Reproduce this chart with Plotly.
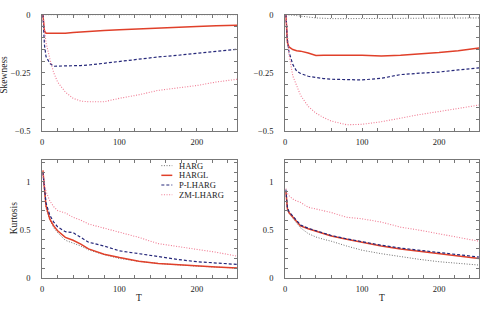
import plotly.graph_objects as go

T = [1, 2, 3, 5, 10, 15, 20, 30, 40, 50, 60, 80, 100, 125, 150, 175, 200, 225, 252]

# Skewness, left panel
skew_L_HARG = [0]*19
skew_L_HARGL = [0, -0.04, -0.07, -0.08, -0.08, -0.083, -0.083, -0.08, -0.077, -0.074, -0.073, -0.068, -0.065, -0.061, -0.056, -0.054, -0.051, -0.048, -0.046]
skew_L_PLHARG = [0, -0.08, -0.13, -0.18, -0.21, -0.222, -0.222, -0.22, -0.22, -0.219, -0.217, -0.209, -0.199, -0.19, -0.182, -0.175, -0.167, -0.159, -0.149]
skew_L_ZMLHARG = [0, -0.03, -0.07, -0.12, -0.19, -0.25, -0.29, -0.333, -0.36, -0.372, -0.375, -0.375, -0.36, -0.345, -0.326, -0.315, -0.305, -0.29, -0.278]

# Skewness, right panel
skew_R_HARG = [0, 0, 0, 0, -0.002, -0.004, -0.007, -0.01, -0.014, -0.016, -0.017, -0.017, -0.017, -0.016, -0.015, -0.015, -0.015, -0.014, -0.014]
skew_R_HARGL = [0, -0.08, -0.12, -0.139, -0.15, -0.155, -0.157, -0.165, -0.176, -0.175, -0.174, -0.175, -0.175, -0.178, -0.175, -0.17, -0.163, -0.155, -0.143]
skew_R_PLHARG = [0, -0.06, -0.11, -0.16, -0.215, -0.243, -0.253, -0.265, -0.271, -0.275, -0.278, -0.281, -0.281, -0.274, -0.258, -0.252, -0.247, -0.238, -0.229]
skew_R_ZMLHARG = [0, -0.05, -0.1, -0.17, -0.264, -0.31, -0.347, -0.395, -0.424, -0.443, -0.458, -0.474, -0.472, -0.461, -0.444, -0.43, -0.417, -0.403, -0.389]

# Kurtosis, left panel
kurt_L_HARG = [1.1, 0.98, 0.87, 0.73, 0.6, 0.52, 0.47, 0.39, 0.36, 0.33, 0.29, 0.24, 0.2, 0.17, 0.148, 0.132, 0.12, 0.11, 0.1]
kurt_L_HARGL = [1.12, 1.0, 0.89, 0.75, 0.61, 0.54, 0.49, 0.42, 0.39, 0.35, 0.3, 0.245, 0.21, 0.172, 0.148, 0.133, 0.12, 0.11, 0.1]
kurt_L_PLHARG = [1.1, 1.0, 0.9, 0.78, 0.65, 0.58, 0.53, 0.48, 0.47, 0.42, 0.37, 0.33, 0.28, 0.25, 0.217, 0.19, 0.166, 0.152, 0.138]
kurt_L_ZMLHARG = [1.1, 1.02, 0.97, 0.9, 0.8, 0.74, 0.70, 0.675, 0.63, 0.6, 0.56, 0.517, 0.476, 0.42, 0.355, 0.325, 0.293, 0.265, 0.224]

# Kurtosis, right panel
kurt_R_HARG = [0.88, 0.76, 0.7, 0.67, 0.62, 0.56, 0.52, 0.46, 0.424, 0.4, 0.38, 0.33, 0.286, 0.25, 0.217, 0.19, 0.166, 0.148, 0.131]
kurt_R_HARGL = [0.9, 0.78, 0.72, 0.68, 0.63, 0.58, 0.54, 0.51, 0.486, 0.46, 0.434, 0.40, 0.366, 0.33, 0.30, 0.275, 0.25, 0.225, 0.2]
kurt_R_PLHARG = [0.92, 0.8, 0.73, 0.69, 0.64, 0.59, 0.55, 0.515, 0.49, 0.465, 0.44, 0.405, 0.372, 0.338, 0.308, 0.284, 0.26, 0.236, 0.215]
kurt_R_ZMLHARG = [0.93, 0.9, 0.88, 0.855, 0.82, 0.8, 0.786, 0.735, 0.715, 0.70, 0.68, 0.63, 0.614, 0.58, 0.527, 0.495, 0.46, 0.42, 0.38]

names = ["HARG", "HARGL", "P-LHARG", "ZM-LHARG"]
styles = {
    "HARG": dict(color="#6e6e6e", dash="1px,1.6px", width=1.0),
    "HARGL": dict(color="#e0402a", dash="solid", width=1.5),
    "P-LHARG": dict(color="#26287a", dash="3px,2px", width=1.2),
    "ZM-LHARG": dict(color="#f07a92", dash="1px,1.6px", width=1.1),
}

panels = [
    ("x", "y", [skew_L_HARG, skew_L_HARGL, skew_L_PLHARG, skew_L_ZMLHARG]),
    ("x2", "y2", [skew_R_HARG, skew_R_HARGL, skew_R_PLHARG, skew_R_ZMLHARG]),
    ("x3", "y3", [kurt_L_HARG, kurt_L_HARGL, kurt_L_PLHARG, kurt_L_ZMLHARG]),
    ("x4", "y4", [kurt_R_HARG, kurt_R_HARGL, kurt_R_PLHARG, kurt_R_ZMLHARG]),
]

fig = go.Figure()
for xa, ya, series in panels:
    for nm, vals in zip(names, series):
        fig.add_trace(go.Scatter(x=T, y=vals, mode="lines", name=nm, xaxis=xa, yaxis=ya,
                                 line=styles[nm], showlegend=False))

FONT = "Liberation Serif"
tickfont = dict(family=FONT, size=8.5, color="#222")

xt = list(range(0, 260, 20))
xtt = [str(v) if v % 100 == 0 else "" for v in xt]
ys = [round(-0.05 * i, 2) for i in range(11)]
yst = {0: "0", -0.25: "−0.25", -0.5: "−0.5"}
yst_l = [yst.get(v, "") for v in ys]
yk = [round(0.1 * i, 1) for i in range(13)]
ykt = [("0" if v == 0 else "0.5" if v == 0.5 else "1" if v == 1.0 else "") for v in yk]

common = dict(showline=True, linecolor="#777", linewidth=1, mirror="allticks", ticks="inside",
              ticklen=3, tickcolor="#777", showgrid=False, zeroline=False, tickfont=tickfont)
xcommon = dict(common, ticklabelstandoff=3)
ycommon = dict(common, ticklabelstandoff=9)

xd1 = [40.3 / 482, 236 / 482]
xd2 = [284.3 / 482, 479 / 482]
yd_top = [1 - 130 / 310, 1 - 10 / 310]
yd_bot = [1 - 281.7 / 310, 1 - 160 / 310]

fig.update_layout(
    width=482, height=310, margin=dict(l=0, r=0, t=0, b=0),
    plot_bgcolor="white", paper_bgcolor="white",
    font=dict(family=FONT, size=9, color="#222"),
    xaxis=dict(domain=xd1, anchor="y", range=[0, 252], tickvals=xt, ticktext=xtt, **xcommon),
    yaxis=dict(domain=yd_top, anchor="x", range=[-0.5, 0], tickvals=ys, ticktext=yst_l, **ycommon),
    xaxis2=dict(domain=xd2, anchor="y2", range=[0, 252], tickvals=xt, ticktext=xtt, **xcommon),
    yaxis2=dict(domain=yd_top, anchor="x2", range=[-0.5, 0], tickvals=ys, ticktext=yst_l, **ycommon),
    xaxis3=dict(domain=xd1, anchor="y3", range=[0, 252], tickvals=xt, ticktext=xtt, **xcommon),
    yaxis3=dict(domain=yd_bot, anchor="x3", range=[0, 1.23], tickvals=yk, ticktext=ykt, **ycommon),
    xaxis4=dict(domain=xd2, anchor="y4", range=[0, 252], tickvals=xt, ticktext=xtt, **xcommon),
    yaxis4=dict(domain=yd_bot, anchor="x4", range=[0, 1.23], tickvals=yk, ticktext=ykt, **ycommon),
    showlegend=False,
)

ann = dict(xref="paper", yref="paper", showarrow=False, xanchor="center", yanchor="middle",
           font=dict(family=FONT, size=9.5, color="#222"))
fig.add_annotation(text="Skewness", x=2 / 482, y=1 - 72 / 310, textangle=-90, **ann)
fig.add_annotation(text="Kurtosis", x=11.5 / 482, y=1 - 220 / 310, textangle=-90, **ann)
fig.add_annotation(text="T", x=138 / 482, y=1 - 303 / 310, **ann)
fig.add_annotation(text="T", x=382 / 482, y=1 - 303 / 310, **ann)

# compact legend (frameless, inside lower-left panel)
leg_x0, leg_x1, leg_tx, leg_y0, leg_dy = 160, 171, 177, 166, 10
for i, nm in enumerate(names):
    yy = 1 - (leg_y0 + i * leg_dy) / 310
    st = styles[nm]
    fig.add_shape(type="line", xref="paper", yref="paper", x0=leg_x0 / 482, x1=leg_x1 / 482, y0=yy, y1=yy,
                  line=dict(color=st["color"], dash=st["dash"], width=st["width"]))
    fig.add_annotation(text=nm, x=leg_tx / 482, y=yy, xanchor="left", yanchor="middle",
                       xref="paper", yref="paper", showarrow=False, borderpad=0,
                       font=dict(family=FONT, size=8.5, color="#222"))

fig.write_html("out.html")
